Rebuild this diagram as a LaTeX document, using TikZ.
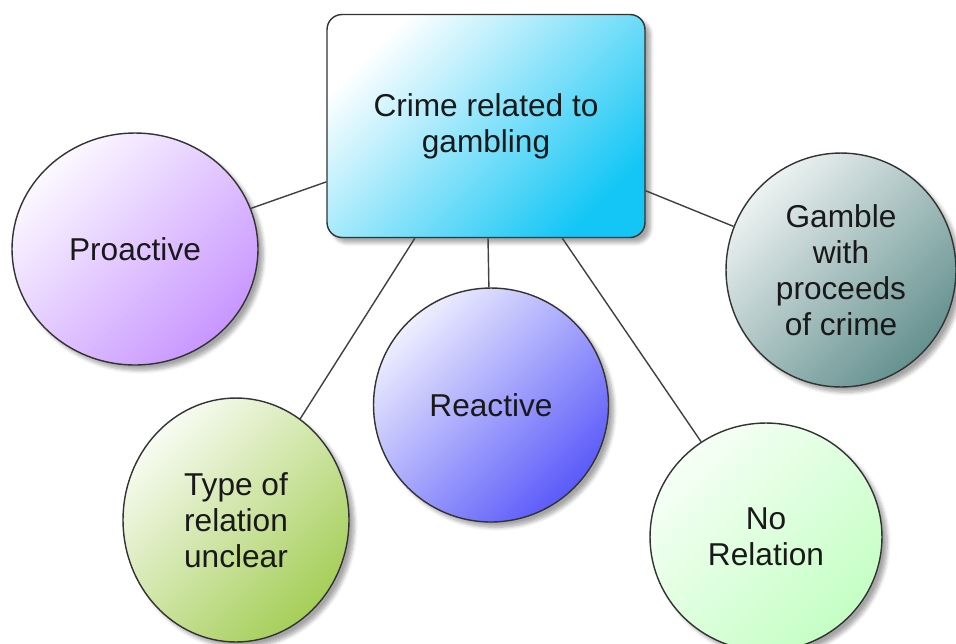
\documentclass[tikz,border=0pt]{standalone}
\usepackage{fontspec}
\setmainfont{Liberation Sans}
\usetikzlibrary{shapes.geometric,shadows.blur}
\definecolor{sky}{RGB}{20,198,245}
\definecolor{lilac}{RGB}{200,150,255}
\definecolor{indigo}{RGB}{90,90,250}
\definecolor{leaf}{RGB}{165,206,88}
\definecolor{slate}{RGB}{100,145,143}
\definecolor{mint}{RGB}{196,255,196}

\begin{document}
\begin{tikzpicture}[x=0.02cm, y=-0.02cm, font=\fontsize{18}{20.5}\selectfont,
    hub/.style={draw=black!80, line width=0.8pt, rounded corners=0.3cm,
      align=center, text=black!90,
      blur shadow={shadow xshift=3pt, shadow yshift=-3pt, shadow opacity=35, shadow blur steps=6}},
    bubble/.style={ellipse, draw=black!80, line width=0.8pt, inner sep=0pt,
      align=center, text=black!90,
      blur shadow={shadow xshift=3pt, shadow yshift=-3pt, shadow opacity=35, shadow blur steps=6}},
    link/.style={draw=black!75, line width=0.8pt}]

    \useasboundingbox (0,0) rectangle (956,643);

    \node[hub, top color=white, bottom color=sky, shading angle=45,
      minimum width=6.36cm, minimum height=4.46cm] (crime) at (486,126)
      {Crime related to\\gambling};

    \node[bubble, top color=lilac!6, bottom color=lilac, shading angle=45,
      minimum width=4.92cm, minimum height=4.64cm] (pro) at (135,249)
      {Proactive};
    \node[bubble, top color=leaf!8, bottom color=leaf, shading angle=45,
      minimum width=4.52cm, minimum height=4.88cm] (unclear) at (236,520)
      {Type of\\relation\\unclear};
    \node[bubble, top color=indigo!10, bottom color=indigo, shading angle=45,
      minimum width=4.70cm, minimum height=4.68cm] (re) at (491,405)
      {Reactive};
    \node[bubble, top color=mint!15, bottom color=mint, shading angle=45,
      minimum width=4.64cm, minimum height=4.56cm] (norel) at (766,537)
      {No\\Relation};
    \node[bubble, top color=slate!12, bottom color=slate, shading angle=45,
      minimum width=4.60cm, minimum height=4.68cm] (gamble) at (841,270)
      {Gamble\\with\\proceeds\\of crime};

    \draw[link] (crime) -- (pro);
    \draw[link] (crime) -- (unclear);
    \draw[link] (crime) -- (re);
    \draw[link] (crime) -- (norel);
    \draw[link] (crime) -- (gamble);
\end{tikzpicture}
\end{document}
